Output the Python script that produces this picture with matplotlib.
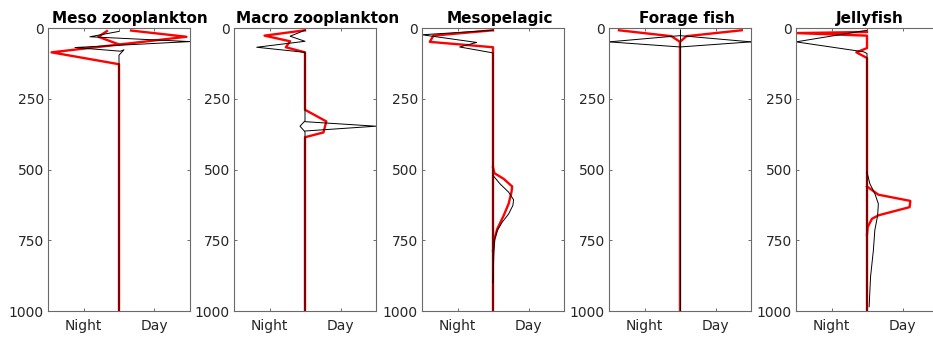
import matplotlib.pyplot as plt

# titles of the five panels
titles = ['Meso zooplankton', 'Macro zooplankton', 'Mesopelagic', 'Forage fish', 'Jellyfish']

# profile lines: x (Night < 0 < Day), z = depth (m)
meso_red_a_x = [-0.17, -0.29, -0.13, 0]
meso_red_a_z = [11, 31, 46, 58]
meso_red_b_x = [0.17, 0.95, -0.95, 0, 0]
meso_red_b_z = [9, 31, 86, 128, 1000]
meso_black_x = [0, -0.41, 0, 1.0, -0.62, 0.02, 0.07, 0, 0]
meso_black_z = [12, 31, 36, 48, 69, 82, 77, 96, 1000]

macro_red_x = [0, -0.57, -0.21, -0.27, 0, 0, 0.30, 0.26, 0, 0]
macro_red_z = [8, 27, 47, 68, 86, 289, 330, 369, 386, 1000]
macro_black_x = [0, -0.21, 0, -0.68, 0, 0, -0.07, 0, 0]
macro_black_z = [8, 29, 47, 68, 86, 328, 347, 367, 1000]
macro_black_b_x = [0, 1.0, 0]
macro_black_b_z = [331, 347, 364]

mesop_red_night_x = [0, -0.84, -0.89, 0, 0]
mesop_red_night_z = [8, 27, 49, 68, 1000]
mesop_red_day_x = [0, 0.02, 0.15, 0.27, 0.26, 0.22, 0.15, 0.06, 0.02, 0]
mesop_red_day_z = [492, 513, 533, 560, 580, 621, 663, 710, 745, 786]
mesop_black_night_x = [0, -1.0, -0.23, -0.47, 0, 0]
mesop_black_night_z = [8, 24, 51, 67, 88, 1000]
mesop_black_day_x = [0, 0.10, 0.22, 0.29, 0.28, 0.22, 0.13, 0.06, 0.02, 0.01, 0]
mesop_black_day_z = [521, 551, 580, 607, 627, 657, 686, 716, 751, 810, 900]

forage_red_x = [-0.86, -0.12, 0, 0.09, 0.87]
forage_red_z = [8, 29, 49, 29, 8]
forage_red_c_x = [0, 0]
forage_red_c_z = [49, 1000]
forage_black_a_x = [-1, 0, 1]
forage_black_a_z = [49, 27, 49]
forage_black_b_x = [-1, 0, 1]
forage_black_b_z = [49, 67, 49]
forage_black_c_x = [0, 0]
forage_black_c_z = [8, 1000]

jelly_red_night_x = [0, -1, 0, 0, -0.15, 0, 0]
jelly_red_night_z = [14, 18, 27, 71, 86, 106, 1000]
jelly_red_day_x = [0, 0.16, 0.61, 0.60, 0.16, 0.07, 0.01, 0]
jelly_red_day_z = [560, 589, 611, 633, 662, 674, 703, 730]
jelly_black_night_x = [0, -1, -0.05, 0, 0]
jelly_black_night_z = [8, 49, 84, 90, 1000]
jelly_black_day_x = [0, 0.04, 0.11, 0.16, 0.15, 0.11, 0.09, 0.05, 0.03]
jelly_black_day_z = [509, 550, 585, 621, 662, 715, 785, 879, 985]

red_lines = [
    [(meso_red_a_x, meso_red_a_z), (meso_red_b_x, meso_red_b_z)],
    [(macro_red_x, macro_red_z)],
    [(mesop_red_night_x, mesop_red_night_z), (mesop_red_day_x, mesop_red_day_z)],
    [(forage_red_x, forage_red_z), (forage_red_c_x, forage_red_c_z)],
    [(jelly_red_night_x, jelly_red_night_z), (jelly_red_day_x, jelly_red_day_z)],
]
black_lines = [
    [(meso_black_x, meso_black_z)],
    [(macro_black_x, macro_black_z), (macro_black_b_x, macro_black_b_z)],
    [(mesop_black_night_x, mesop_black_night_z), (mesop_black_day_x, mesop_black_day_z)],
    [(forage_black_a_x, forage_black_a_z), (forage_black_b_x, forage_black_b_z),
     (forage_black_c_x, forage_black_c_z)],
    [(jelly_black_night_x, jelly_black_night_z), (jelly_black_day_x, jelly_black_day_z)],
]

W, H = 933, 341
fig = plt.figure(figsize=(W / 100, H / 100), dpi=100)

lefts = [48, 234, 422, 609, 796]
# left edge of each title (pixels), titles sit a little right of centre
title_x = [52, 236, 447, 639, 836]
for i in range(5):
    ax = fig.add_axes([lefts[i] / W, 1 - 311 / H, 142 / W, 283 / H])
    for x, z in red_lines[i]:
        ax.plot(x, z, color='red', lw=1.7)
    for x, z in black_lines[i]:
        ax.plot(x, z, color='black', lw=0.7)
    ax.set_xlim(-1, 1)
    ax.set_ylim(1000, 0)
    ax.set_xticks([-0.5, 0, 0.5])
    ax.set_xticklabels(['Night', '', 'Day'])
    ax.set_yticks([0, 250, 500, 750, 1000])
    ax.tick_params(direction='in', length=2.5, width=0.6, color='#555555',
                   labelcolor='#262626', labelsize=10, top=True, right=True)
    ax.tick_params(axis='x', pad=6)
    ax.tick_params(axis='y', pad=3)
    for s in ax.spines.values():
        s.set_color('#6a6a6a')
        s.set_linewidth(0.8)
    fig.text(title_x[i] / W, 1 - 23 / H, titles[i], fontsize=11,
             fontweight='bold', ha='left', va='baseline')

fig.savefig('out.png', dpi=100)
